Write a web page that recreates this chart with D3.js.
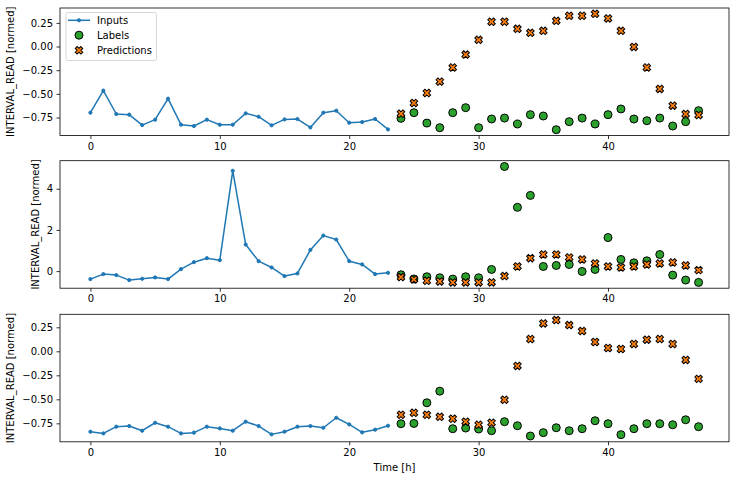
<!DOCTYPE html>
<html><head><meta charset="utf-8">
<script src="https://cdn.jsdelivr.net/npm/d3@7"></script>
<style>
body{margin:0;background:#fff}
text{font-family:"DejaVu Sans",sans-serif;font-size:10px;fill:#000}
</style>
</head><body>
<svg id="chart" width="736" height="480"></svg>
<script>
// ---- data ----
const inputTimes = [0,1,2,3,4,5,6,7,8,9,10,11,12,13,14,15,16,17,18,19,20,21,22,23];
const labelTimes = [24,25,26,27,28,29,30,31,32,33,34,35,36,37,38,39,40,41,42,43,44,45,46,47];

const inputs1 = [-0.699,-0.466,-0.713,-0.72,-0.83,-0.773,-0.551,-0.826,-0.84,-0.773,-0.826,-0.826,-0.706,-0.742,-0.833,-0.77,-0.766,-0.855,-0.699,-0.678,-0.805,-0.798,-0.766,-0.876];
const labels1 = [-0.759,-0.699,-0.809,-0.858,-0.699,-0.646,-0.858,-0.766,-0.756,-0.819,-0.72,-0.734,-0.879,-0.794,-0.756,-0.819,-0.72,-0.66,-0.766,-0.784,-0.756,-0.84,-0.794,-0.678];
const preds1  = [-0.71,-0.597,-0.491,-0.371,-0.222,-0.085,0.071,0.262,0.262,0.187,0.145,0.166,0.272,0.325,0.325,0.346,0.297,0.166,-0.004,-0.222,-0.448,-0.625,-0.713,-0.724];

const inputs2 = [-0.387,-0.145,-0.194,-0.435,-0.371,-0.306,-0.387,0.097,0.435,0.629,0.532,4.87,1.29,0.484,0.177,-0.242,-0.113,1.03,1.725,1.532,0.484,0.323,-0.145,-0.081];
const labels2 = [-0.177,-0.38,-0.274,-0.323,-0.387,-0.274,-0.323,0.081,5.08,3.097,3.677,0.226,0.274,0.323,-0.016,0.081,1.629,0.565,0.403,0.5,0.806,-0.194,-0.435,-0.548];
const preds2  = [-0.29,-0.403,-0.468,-0.5,-0.548,-0.548,-0.548,-0.548,-0.242,0.226,0.629,0.806,0.806,0.661,0.565,0.371,0.226,0.177,0.226,0.323,0.371,0.419,0.274,0.048];

const inputs3 = [-0.837,-0.855,-0.785,-0.778,-0.827,-0.744,-0.785,-0.855,-0.847,-0.785,-0.803,-0.827,-0.733,-0.778,-0.865,-0.837,-0.785,-0.778,-0.796,-0.692,-0.761,-0.844,-0.816,-0.775];
const labels3 = [-0.754,-0.751,-0.536,-0.415,-0.806,-0.799,-0.809,-0.827,-0.733,-0.775,-0.882,-0.847,-0.796,-0.827,-0.806,-0.723,-0.754,-0.868,-0.806,-0.754,-0.754,-0.765,-0.713,-0.785];
const preds3  = [-0.661,-0.64,-0.661,-0.682,-0.702,-0.733,-0.765,-0.744,-0.505,-0.152,0.128,0.29,0.325,0.273,0.211,0.097,0.034,0.024,0.076,0.121,0.128,0.076,-0.09,-0.287];

const xTicks = [0,10,20,30,40];
const yTicksA = [-0.75,-0.5,-0.25,0,0.25];
const yTicksB = [0,2,4];
const yLabel = "INTERVAL_READ [normed]";
const xLabel = "Time [h]";
const legendNames = ["Inputs","Labels","Predictions"];

const panels = [
  {inputs: inputs1, labels: labels1, preds: preds1, ticks: yTicksA, fmt: ".2f", legend: true},
  {inputs: inputs2, labels: labels2, preds: preds2, ticks: yTicksB, fmt: "d", legend: false},
  {inputs: inputs3, labels: labels3, preds: preds3, ticks: yTicksA, fmt: ".2f", legend: false}
];

// ---- layout ----
const C_IN = "#1f77b4", C_LAB = "#2ca02c", C_PRED = "#ff7f0e";
const left = 60, right = 729;
const tops = [8, 160.7, 314.3];
const ph = 127.5;

const svg = d3.select("#chart");

const xMin = d3.min(inputTimes), xMax = d3.max(labelTimes);
const xPad = (xMax - xMin) * 0.05;
const x = d3.scaleLinear().domain([xMin - xPad, xMax + xPad]).range([left, right]);

// X marker (matplotlib 'X')
const xPts = [[-1,-3],[1,-3],[1,-1],[3,-1],[3,1],[1,1],[1,3],[-1,3],[-1,1],[-3,1],[-3,-1],[-1,-1]];
const xs = 8/6;
const xPath = "M" + xPts.map(p => [p[0]*xs, p[1]*xs].join(",")).join("L") + "Z";

function drawX(g, cx, cy) {
  g.append("path").attr("d", xPath)
    .attr("transform", `translate(${cx},${cy}) rotate(45)`)
    .attr("fill", C_PRED).attr("stroke", "#000").attr("stroke-width", 1);
}
function drawCircle(g, cx, cy) {
  g.append("circle").attr("cx", cx).attr("cy", cy).attr("r", 4)
    .attr("fill", C_LAB).attr("stroke", "#000").attr("stroke-width", 1);
}

panels.forEach((p, i) => {
  const top = tops[i], bottom = top + ph;
  const all = p.inputs.concat(p.labels, p.preds);
  const lo = d3.min(all), hi = d3.max(all), pad = (hi - lo) * 0.05;
  const y = d3.scaleLinear().domain([lo - pad, hi + pad]).range([bottom, top]);
  const g = svg.append("g");

  // inputs line
  const line = d3.line().x((d, k) => x(inputTimes[k])).y(d => y(d));
  g.append("path").datum(p.inputs).attr("d", line)
    .attr("fill", "none").attr("stroke", C_IN).attr("stroke-width", 1.5).attr("stroke-linejoin", "round");
  g.selectAll(".dot").data(p.inputs).join("circle")
    .attr("cx", (d, k) => x(inputTimes[k])).attr("cy", d => y(d)).attr("r", 1.6)
    .attr("fill", C_IN).attr("stroke", C_IN).attr("stroke-width", 1);

  // labels
  p.labels.forEach((v, k) => drawCircle(g, x(labelTimes[k]), y(v)));
  // predictions
  p.preds.forEach((v, k) => drawX(g, x(labelTimes[k]), y(v)));

  // axes
  const gx = svg.append("g").attr("transform", `translate(0,${bottom})`)
    .call(d3.axisBottom(x).tickValues(xTicks).tickSize(3.5).tickPadding(3.5).tickFormat(d3.format("d")));
  const gy = svg.append("g").attr("transform", `translate(${left},0)`)
    .call(d3.axisLeft(y).tickValues(p.ticks).tickSize(3.5).tickPadding(3.5).tickFormat(d3.format(p.fmt)));
  [gx, gy].forEach(a => {
    a.select(".domain").remove();
    a.selectAll(".tick line").attr("stroke", "#000").attr("stroke-width", 0.8);
    a.selectAll(".tick text").attr("font-family", "DejaVu Sans").attr("font-size", 10).attr("fill", "#000");
  });

  // frame
  svg.append("rect").attr("x", left).attr("y", top).attr("width", right - left).attr("height", ph)
    .attr("fill", "none").attr("stroke", "#000").attr("stroke-width", 0.8);

  // y label
  const bb = gy.node().getBBox();
  const lx = left + bb.x - 8;
  svg.append("text").attr("transform", `translate(${lx},${(top + bottom) / 2}) rotate(-90)`)
    .attr("text-anchor", "middle").text(yLabel);

  if (p.legend) {
    const lg = svg.append("g");
    lg.append("rect").attr("x", 66).attr("y", 12.5).attr("width", 90.5).attr("height", 48)
      .attr("rx", 2).attr("fill", "#fff").attr("fill-opacity", 0.8)
      .attr("stroke", "#ccc").attr("stroke-width", 0.8);
    const rows = [20.3, 35.2, 50.3];
    lg.append("line").attr("x1", 68).attr("x2", 90).attr("y1", rows[0]).attr("y2", rows[0])
      .attr("stroke", C_IN).attr("stroke-width", 1.5);
    lg.append("circle").attr("cx", 79).attr("cy", rows[0]).attr("r", 1.6)
      .attr("fill", C_IN).attr("stroke", C_IN).attr("stroke-width", 1);
    drawCircle(lg, 79, rows[1]);
    drawX(lg, 79, rows[2]);
    legendNames.forEach((n, k) => {
      lg.append("text").attr("x", 97).attr("y", rows[k] + 3.6).text(n);
    });
  }
  if (i === panels.length - 1) {
    svg.append("text").attr("x", (left + right) / 2).attr("y", bottom + 29)
      .attr("text-anchor", "middle").text(xLabel);
  }
});
</script>
</body></html>
